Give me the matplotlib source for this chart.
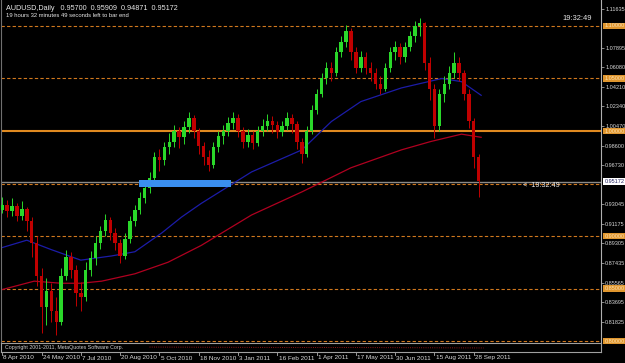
import numpy as np
import matplotlib
matplotlib.use("Agg")
import matplotlib.pyplot as plt
from matplotlib.transforms import blended_transform_factory

plt.rcParams["font.family"] = ["Liberation Sans", "DejaVu Sans"]

# header info
symbol = "AUDUSD,Daily"
header_ohlc = ["0.95700", "0.95909", "0.94871", "0.95172"]
timer_text = "19 hours 32 minutes 49 seconds left to bar end"
clock = "19:32:49"
bid = 0.95172

# candles, one every 4 daily bars
open_first = 0.925
close = [0.930, 0.924, 0.929, 0.919, 0.926, 0.914, 0.893, 0.862, 0.832, 0.848,
         0.829, 0.818, 0.862, 0.880, 0.868, 0.846, 0.842, 0.868, 0.879, 0.893,
         0.905, 0.915, 0.903, 0.893, 0.881, 0.897, 0.914, 0.925, 0.936, 0.946,
         0.955, 0.975, 0.972, 0.985, 0.990, 1.000, 0.994, 1.004, 1.012, 1.000,
         0.986, 0.975, 0.968, 0.985, 0.995, 1.000, 1.008, 1.012, 1.000, 0.990,
         0.996, 0.989, 1.000, 1.005, 1.010, 1.006, 0.999, 1.005, 1.012, 1.007,
         0.990, 0.978, 1.000, 1.020, 1.035, 1.050, 1.060, 1.055, 1.075, 1.085,
         1.095, 1.075, 1.060, 1.070, 1.060, 1.055, 1.045, 1.040, 1.060, 1.075,
         1.080, 1.070, 1.080, 1.090, 1.100, 1.103, 1.065, 1.040, 1.005, 1.035,
         1.045, 1.055, 1.065, 1.055, 1.035, 1.010, 0.975, 0.952]
high = [0.937, 0.934, 0.936, 0.931, 0.933, 0.928, 0.918, 0.900, 0.870, 0.860,
        0.855, 0.842, 0.870, 0.887, 0.885, 0.872, 0.856, 0.875, 0.886, 0.900,
        0.910, 0.921, 0.918, 0.908, 0.897, 0.903, 0.919, 0.930, 0.942, 0.952,
        0.961, 0.980, 0.983, 0.990, 0.998, 1.006, 1.004, 1.010, 1.018, 1.015,
        1.003, 0.990, 0.982, 0.990, 1.000, 1.006, 1.013, 1.018, 1.016, 1.004,
        1.002, 1.000, 1.005, 1.011, 1.016, 1.014, 1.010, 1.010, 1.018, 1.016,
        1.010, 0.993, 1.005, 1.025, 1.040, 1.055, 1.066, 1.066, 1.080, 1.090,
        1.101, 1.098, 1.080, 1.076, 1.075, 1.066, 1.060, 1.052, 1.065, 1.080,
        1.086, 1.084, 1.085, 1.095, 1.105, 1.108, 1.104, 1.070, 1.045, 1.040,
        1.052, 1.062, 1.075, 1.070, 1.058, 1.040, 1.012, 0.978]
low = [0.922, 0.918, 0.919, 0.914, 0.915, 0.905, 0.880, 0.852, 0.808, 0.815,
       0.818, 0.806, 0.815, 0.858, 0.860, 0.833, 0.829, 0.838, 0.862, 0.872,
       0.888, 0.900, 0.896, 0.887, 0.874, 0.878, 0.893, 0.910, 0.921, 0.931,
       0.941, 0.952, 0.962, 0.968, 0.978, 0.985, 0.984, 0.988, 0.998, 0.993,
       0.978, 0.968, 0.962, 0.965, 0.980, 0.988, 0.995, 1.002, 0.994, 0.984,
       0.985, 0.983, 0.986, 0.995, 1.000, 0.998, 0.993, 0.995, 1.001, 0.998,
       0.983, 0.970, 0.975, 0.997, 1.016, 1.032, 1.045, 1.048, 1.052, 1.070,
       1.080, 1.068, 1.055, 1.056, 1.054, 1.048, 1.040, 1.035, 1.038, 1.056,
       1.068, 1.064, 1.066, 1.076, 1.085, 1.090, 1.058, 1.030, 0.993, 1.000,
       1.028, 1.040, 1.050, 1.048, 1.030, 1.003, 0.965, 0.937]
bar_step = 4

# moving averages (bar index, value)
ma_fast_bars = [0, 20, 40, 64, 89, 108, 130, 146, 162, 203, 244, 268, 292, 325, 358, 374, 390]
ma_fast = [0.889, 0.896, 0.887, 0.877, 0.881, 0.885, 0.903, 0.918, 0.931, 0.961,
           0.982, 1.009, 1.028, 1.041, 1.050, 1.047, 1.034]
ma_slow_bars = [0, 26, 48, 64, 81, 108, 135, 162, 203, 244, 284, 325, 349, 374, 390]
ma_slow = [0.849, 0.857, 0.855, 0.855, 0.857, 0.864, 0.875, 0.891, 0.920, 0.942,
           0.965, 0.982, 0.990, 0.997, 0.994]

# drawn support zone
zone_bars = (111, 186)
zone_prices = (0.9467, 0.9533)

levels = [1.10, 1.05, 0.95, 0.90, 0.85, 0.80]
key_level = 1.00

y_ticks = [1.11635, 1.07895, 1.06080, 1.04210, 1.02340, 1.00470, 0.98600, 0.96730,
           0.93045, 0.91175, 0.89305, 0.87435, 0.85565, 0.83695, 0.81825]

dates = ["8 Apr 2010", "24 May 2010", "7 Jul 2010", "20 Aug 2010", "5 Oct 2010",
         "18 Nov 2010", "3 Jan 2011", "16 Feb 2011", "1 Apr 2011", "17 May 2011",
         "30 Jun 2011", "15 Aug 2011", "28 Sep 2011"]
date_step = 32

W, H = 625, 363
fig = plt.figure(figsize=(W / 100, H / 100), dpi=100, facecolor="black")
ax = fig.add_axes([1 / W, 1 - 343 / H, 600 / W, 343 / H], facecolor="black")
ax2 = fig.add_axes([1 / W, 1 - 352 / H, 600 / W, 9 / H], facecolor="black")

ax.set_xlim(-1, 487.6)
ax.set_ylim(0.7981, 1.12476)
ax2.set_xlim(ax.get_xlim())
ax2.set_ylim(0, 1)

# level lines
for lv in levels:
    ax.axhline(lv, color="#d0781e", lw=0.8, dashes=(3, 2), zorder=1)
ax.axhline(key_level, color="#e08a20", lw=1.5, zorder=1)
ax.axhline(bid, color="#8a8a8a", lw=1.0, zorder=1)

# zone
ax.fill_between(zone_bars, zone_prices[0], zone_prices[1], color="#3a8ff0", lw=0, zorder=4)

# moving averages
ax.plot(ma_fast_bars, ma_fast, color="#1c1ca8", lw=0.9, zorder=2)
ax.plot(ma_slow_bars, ma_slow, color="#b00020", lw=0.9, zorder=2)

# candles
close = np.array(close)
opens = np.concatenate([[open_first], close[:-1]])
bars = np.arange(len(close)) * bar_step
up = close >= opens
cols = np.where(up, "#2ad82a", "#c00000")
ax.vlines(bars, low, high, colors=cols, lw=0.7, zorder=3)
ax.bar(bars, close - opens, bottom=opens, width=2.8, color=cols, lw=0, zorder=3)

# right axis
ax.yaxis.tick_right()
ax.set_yticks(y_ticks)
ax.set_yticklabels(["%.5f" % v for v in y_ticks])
ax.tick_params(axis="y", colors="#a0a0a0", labelcolor="#d8d8d8", labelsize=4.0,
               length=2, width=0.6, pad=1.0)
ax.set_xticks([])
for s in ["top", "bottom"]:
    ax.spines[s].set_visible(False)
ax.spines["right"].set_color("#b0b0b0")
ax.spines["left"].set_color("#707070")

tr = blended_transform_factory(ax.transAxes, ax.transData)
for lv in levels + [key_level]:
    if lv == 0.95:
        continue
    ax.text(1.0055, lv, "%.5f" % lv, transform=tr, fontsize=4.0, color="#fce0b0",
            ha="left", va="center", clip_on=False,
            bbox=dict(boxstyle="square,pad=0.15", fc="#e0962e", ec="none"))
ax.text(1.0055, bid, "%.5f" % bid, transform=tr, fontsize=4.0, color="#202060",
        ha="left", va="center", clip_on=False,
        bbox=dict(boxstyle="square,pad=0.15", fc="white", ec="none"))

# texts
ax.text(0.008, 0.986, "%s   %s" % (symbol, "  ".join(header_ohlc)), transform=ax.transAxes,
        fontsize=5.2, color="#e8e8e8", va="top", ha="left")
ax.text(0.008, 0.962, timer_text, transform=ax.transAxes,
        fontsize=4.2, color="#e8e8e8", va="top", ha="left")
ax.text(0.985, 0.945, clock, transform=ax.transAxes, fontsize=5.4, color="#e8e8e8",
        ha="right", va="center")
ax.text(424, bid - 0.004, "<  " + clock, fontsize=5.2, color="#e8e8e8",
        ha="left", va="center")

# sub window
ax2.set_xticks([])
ax2.set_yticks([])
for s in ["top", "bottom", "right", "left"]:
    ax2.spines[s].set_color("#a0a0a0")
    ax2.spines[s].set_linewidth(0.8)
ax2.plot([120, 392], [0.55, 0.45], color="#c02020", lw=0.6, ls=":")
ax2.text(2, 0.5, "Copyright 2001-2011, MetaQuotes Software Corp.", fontsize=3.8,
         color="#d0d0d0", va="center", ha="left")

# date axis
trd = blended_transform_factory(ax.transData, fig.transFigure)
for i, d in enumerate(dates):
    b = i * date_step
    ax.plot([b, b], [1 - 352 / H, 1 - 355 / H], transform=trd, color="#b0b0b0",
            lw=0.6, clip_on=False)
    ax.text(b + 1, 1 - 358 / H, d, transform=trd, fontsize=4.6, color="#d8d8d8",
            ha="left", va="center", clip_on=False)

fig.savefig("out.png", dpi=100, facecolor="black")
